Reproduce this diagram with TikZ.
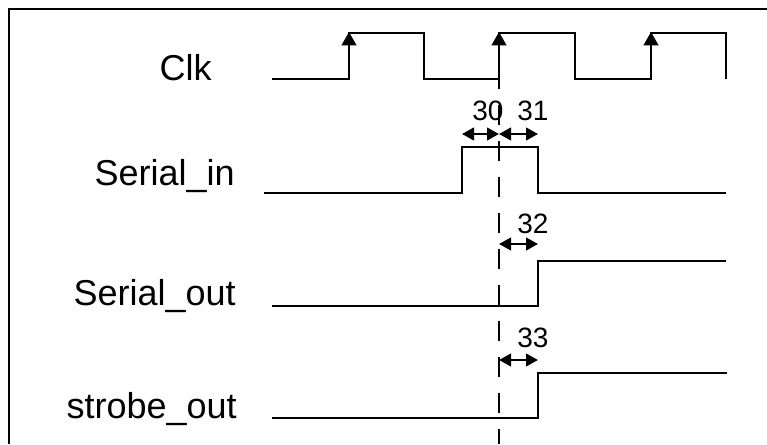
\documentclass[tikz,border=0pt]{standalone}
\usepackage{fontspec}
\setmainfont{Liberation Sans}
\usetikzlibrary{arrows.meta}

\begin{document}
\begin{tikzpicture}[x=0.75pt,y=-0.75pt,
    wave/.style={line width=1.6pt},
    signame/.style={font=\fontsize{27}{30}\selectfont,anchor=base east,inner sep=0pt},
    delay/.style={font=\fontsize{21}{24}\selectfont,anchor=base west,inner sep=0pt},
    span/.style={line width=1.6pt,{Triangle[length=9pt,width=9.5pt]}-{Triangle[length=9pt,width=9.5pt]}},
    edge/.style={line width=1.6pt,-{Triangle[length=10pt,width=11pt]}}]
  \useasboundingbox (0,0) rectangle (767,444);

  % frame
  \draw[line width=2pt] (9,444) -- (9,9) -- (767,9);

  % signal names
  \def \Names {
    clk/Clk/212/80,
    sin/Serial\_in/235/185,
    sout/Serial\_out/236/305,
    strobe/strobe\_out/237/418}
  \foreach \id / \txt / \x / \y in \Names {
    \node[signame] (\id) at (\x, \y) {\txt};
  }

  % waveforms
  \draw[wave] (272,79) -- (349,79) -- (349,33) -- (424,33) -- (424,79) -- (499,79)
    -- (499,33) -- (575,33) -- (575,79) -- (651,79) -- (651,33) -- (726,33) -- (726,79);
  \draw[wave] (264,193) -- (462,193) -- (462,147) -- (538,147) -- (538,193) -- (726,193);
  \draw[wave] (272,306) -- (538,306) -- (538,261) -- (726,261);
  \draw[wave] (272,418) -- (538,418) -- (538,373) -- (727,373);

  % clock edges
  \foreach \x in {349,499,651} {
    \draw[edge] (\x,60) -- (\x,32);
  }

  % reference edge
  \draw[line width=1.6pt,dash pattern=on 15pt off 12pt] (499,69) -- (499,444);

  % timing spans
  \def \Spans {
    462/499/134/30/472/120,
    499/538/134/31/517/120,
    499/538/244/32/517/233,
    499/538/360/33/517/347}
  \foreach \a / \b / \y / \w / \lx / \ly in \Spans {
    \coordinate (s\w) at (\a, \y);
    \coordinate (e\w) at (\b, \y);
    \draw[span] (s\w) -- (e\w);
    \node[delay] (t\w) at (\lx, \ly) {\w};
  }
\end{tikzpicture}
\end{document}
